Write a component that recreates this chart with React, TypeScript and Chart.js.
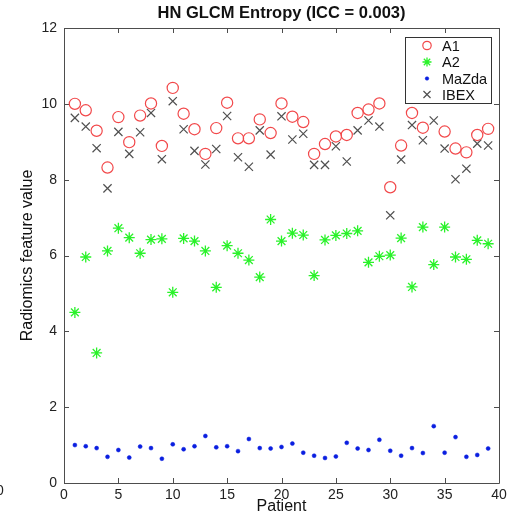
import React, { useEffect, useRef } from "react";
import { Chart, registerables } from "chart.js";

Chart.register(...registerables);

const patients = Array.from({ length: 39 }, (_, i) => i + 1);

const a1 = [10.0, 9.83, 9.29, 8.32, 9.65, 8.99, 9.69, 10.01, 8.89, 10.42, 9.74, 9.33, 8.68, 9.36, 10.03, 9.09, 9.09, 9.59, 9.23, 10.01, 9.66, 9.52, 8.68, 8.94, 9.14, 9.18, 9.76, 9.85, 10.01, 7.8, 8.9, 9.76, 9.37, 10.5, 9.27, 8.82, 8.72, 9.18, 9.34];
const a2 = [4.5, 5.96, 3.43, 6.12, 6.72, 6.47, 6.06, 6.42, 6.44, 5.03, 6.45, 6.38, 6.12, 5.16, 6.26, 6.06, 5.88, 5.43, 6.95, 6.38, 6.59, 6.54, 5.47, 6.41, 6.53, 6.58, 6.65, 5.82, 5.98, 6.01, 6.46, 5.17, 6.75, 5.76, 6.75, 5.96, 5.9, 6.4, 6.31];
const mazda = [1.0, 0.97, 0.92, 0.69, 0.87, 0.67, 0.96, 0.92, 0.64, 1.02, 0.89, 0.97, 1.24, 0.94, 0.97, 0.84, 1.16, 0.92, 0.91, 0.95, 1.04, 0.8, 0.72, 0.66, 0.7, 1.06, 0.91, 0.87, 1.14, 0.85, 0.72, 0.92, 0.79, 1.5, 0.8, 1.21, 0.69, 0.74, 0.91];
const ibex = [9.63, 9.4, 8.83, 7.77, 9.26, 8.68, 9.25, 9.76, 8.54, 10.07, 9.33, 8.76, 8.4, 8.81, 9.68, 8.59, 8.34, 9.3, 8.66, 9.67, 9.06, 9.21, 8.39, 8.39, 8.88, 8.48, 9.3, 9.56, 9.4, 7.06, 8.53, 9.44, 9.04, 9.56, 8.82, 8.01, 8.29, 8.95, 8.9];

const seriesNames = ["A1", "A2", "MaZda", "IBEX"];
const xTicks = [0, 5, 10, 15, 20, 25, 30, 35, 40];
const yTicks = [0, 2, 4, 6, 8, 10, 12];
const titleText = "HN GLCM Entropy (ICC = 0.003)";
const xLabel = "Patient";
const yLabel = "Radiomics feature value";

const FONT = "'Liberation Sans', Arial, Helvetica, sans-serif";
const AXIS = "#4d4d4d";

const red = "#f2484a";
const green = "#2af22a";
const blue = "#0a1fe0";
const gray = "#505050";

const legendRadius = [4.2, 4.5, 1.8, 5];

const toPts = (arr: number[]) => arr.map((v, i) => ({ x: patients[i], y: v }));

function drawSymbol(ctx: CanvasRenderingContext2D, style: string, r: number, x: number, y: number) {
  ctx.beginPath();
  if (style === "circle") {
    ctx.arc(x, y, r, 0, Math.PI * 2);
  } else if (style === "star") {
    for (let k = 0; k < 4; k++) {
      const a = (k * Math.PI) / 4;
      ctx.moveTo(x - r * Math.cos(a), y - r * Math.sin(a));
      ctx.lineTo(x + r * Math.cos(a), y + r * Math.sin(a));
    }
  } else if (style === "crossRot") {
    const d = r * Math.SQRT1_2;
    ctx.moveTo(x - d, y - d);
    ctx.lineTo(x + d, y + d);
    ctx.moveTo(x - d, y + d);
    ctx.lineTo(x + d, y - d);
  }
}

const decorPlugin = {
  id: "decor",
  beforeDatasetsDraw(chart: any) {
    const { ctx, chartArea } = chart;
    const { left, right, top, bottom } = chartArea;
    const xs = chart.scales.x;
    const ys = chart.scales.y;
    ctx.save();
    ctx.strokeStyle = AXIS;
    ctx.lineWidth = 1;
    ctx.beginPath();
    ctx.rect(Math.round(left) + 0.5, Math.round(top) + 0.5, Math.round(right - left), Math.round(bottom - top));
    ctx.stroke();
    const tl = 5;
    ctx.beginPath();
    xTicks.forEach((t) => {
      const px = Math.round(xs.getPixelForValue(t)) + 0.5;
      ctx.moveTo(px, bottom);
      ctx.lineTo(px, bottom - tl);
      ctx.moveTo(px, top);
      ctx.lineTo(px, top + tl);
    });
    yTicks.forEach((t) => {
      const py = Math.round(ys.getPixelForValue(t)) + 0.5;
      ctx.moveTo(left, py);
      ctx.lineTo(left + tl, py);
      ctx.moveTo(right, py);
      ctx.lineTo(right - tl, py);
    });
    ctx.stroke();

    ctx.fillStyle = "#111";
    ctx.textAlign = "center";
    ctx.textBaseline = "middle";
    ctx.font = `bold 16.5px ${FONT}`;
    ctx.fillText(titleText, (left + right) / 2, 13);
    ctx.font = `16px ${FONT}`;
    ctx.fillText(xLabel, (left + right) / 2, 507);
    ctx.translate(28, (top + bottom) / 2);
    ctx.rotate(-Math.PI / 2);
    ctx.fillText(yLabel, 0, 0);
    ctx.restore();
  },
  afterDatasetsDraw(chart: any) {
    const { ctx } = chart;
    ctx.save();
    const bx = 405, by = 37, bw = 86, bh = 66;
    ctx.fillStyle = "#fff";
    ctx.fillRect(bx, by, bw, bh);
    ctx.strokeStyle = "#333";
    ctx.lineWidth = 1;
    ctx.strokeRect(bx + 0.5, by + 0.5, bw, bh);
    const rows = [45.5, 62, 78.5, 94.5];
    const sx = 427;
    ctx.font = `14.5px ${FONT}`;
    ctx.textAlign = "left";
    ctx.textBaseline = "middle";
    chart.data.datasets.forEach((ds: any, i: number) => {
      const y = rows[i];
      ctx.save();
      ctx.strokeStyle = ds.borderColor;
      ctx.fillStyle = ds.backgroundColor;
      ctx.lineWidth = ds.borderWidth;
      drawSymbol(ctx, ds.pointStyle, legendRadius[i], sx, y);
      if (ds.pointStyle === "circle") ctx.fill();
      ctx.stroke();
      ctx.restore();
      ctx.fillStyle = "#111";
      ctx.fillText(seriesNames[i], 442, y + 1);
    });
    ctx.restore();
  },
};

export default function App() {
  const ref = useRef<HTMLCanvasElement>(null);
  useEffect(() => {
    if (!ref.current) return;
    const chart = new Chart(ref.current, {
      type: "scatter",
      data: {
        datasets: [
          { label: seriesNames[0], data: toPts(a1), pointStyle: "circle", pointRadius: 5.6, borderColor: red, backgroundColor: "rgba(0,0,0,0)", borderWidth: 1.2 },
          { label: seriesNames[1], data: toPts(a2), pointStyle: "star", pointRadius: 5.5, borderColor: green, backgroundColor: green, borderWidth: 1.3 },
          { label: seriesNames[2], data: toPts(mazda), pointStyle: "circle", pointRadius: 2, borderColor: blue, backgroundColor: blue, borderWidth: 0.5 },
          { label: seriesNames[3], data: toPts(ibex), pointStyle: "crossRot", pointRadius: 5.8, borderColor: gray, backgroundColor: gray, borderWidth: 1.2 },
        ] as any,
      },
      options: {
        animation: false,
        responsive: false,
        maintainAspectRatio: false,
        layout: { padding: { left: 0, top: 28, right: 17, bottom: 0 } },
        plugins: { legend: { display: false }, title: { display: false }, tooltip: { enabled: false } },
        scales: {
          x: {
            type: "linear",
            min: 0,
            max: 40,
            afterFit: (s: any) => { s.height = 37; },
            afterBuildTicks: (s: any) => { s.ticks = xTicks.map((v) => ({ value: v })); },
            grid: { display: false, drawTicks: false },
            border: { display: false },
            ticks: { padding: 4, color: "#222", font: { family: FONT, size: 14 }, maxRotation: 0 },
          },
          y: {
            type: "linear",
            min: 0,
            max: 12,
            afterFit: (s: any) => { s.width = 64; },
            afterBuildTicks: (s: any) => { s.ticks = yTicks.map((v) => ({ value: v })); },
            grid: { display: false, drawTicks: false },
            border: { display: false },
            ticks: { padding: 7, color: "#222", font: { family: FONT, size: 14 } },
          },
        },
      } as any,
      plugins: [decorPlugin],
    });
    return () => chart.destroy();
  }, []);
  return (
    <div style={{ position: "fixed", left: 0, top: 0, width: 516, height: 520, background: "#fff", overflow: "hidden" }}>
      <canvas ref={ref} width={516} height={520} style={{ display: "block" }} />
      <span style={{ position: "absolute", left: -4, top: 482, font: `14px ${FONT}`, color: "#222" }}>0</span>
    </div>
  );
}
